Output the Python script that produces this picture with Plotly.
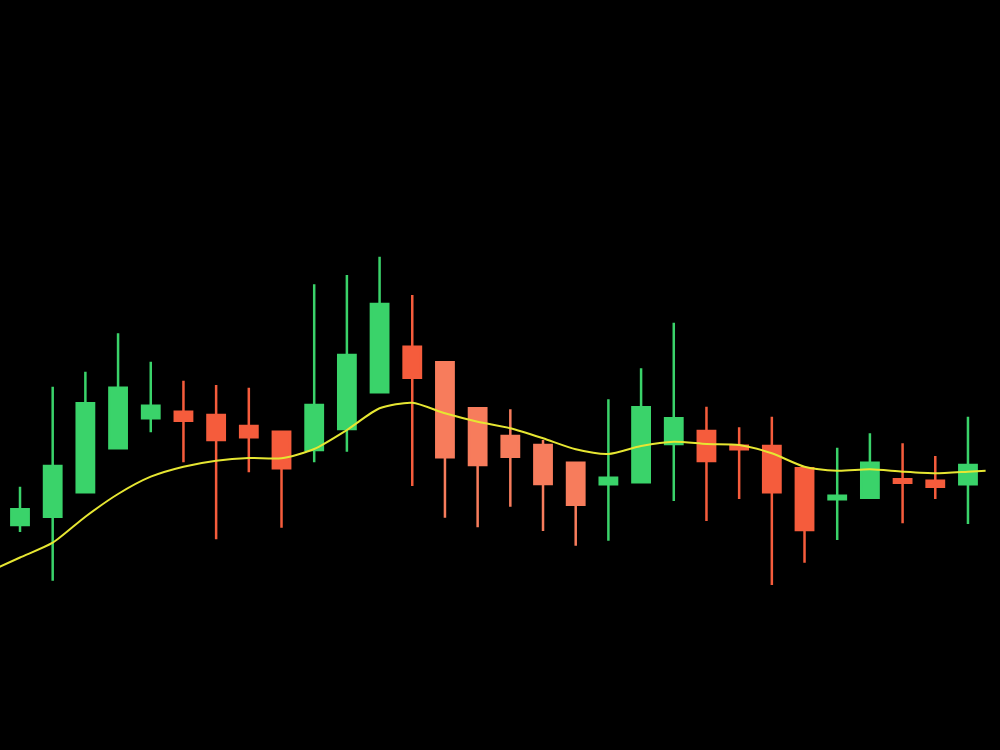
import plotly.graph_objects as go

# Candle data (arbitrary price units)
opens  = [22.50, 23.33, 25.77, 30.17, 33.17, 33.83, 33.50, 32.40, 31.83, 30.00,
          32.10, 35.77, 40.33, 38.77, 34.17, 31.40, 30.50, 28.73, 26.57, 26.77,
          30.60, 31.90, 30.43, 30.40, 28.17, 25.07, 25.23, 27.07, 26.93, 26.57]
highs  = [26.33, 36.33, 37.83, 41.67, 38.83, 36.93, 36.50, 36.23, 31.83, 46.57,
          47.50, 49.33, 45.50, 38.77, 34.17, 34.07, 31.00, 28.73, 35.07, 38.17,
          42.73, 34.33, 32.27, 33.33, 28.17, 30.23, 31.67, 30.67, 29.40, 33.33]
lows   = [21.80, 16.93, 25.77, 30.17, 31.77, 28.77, 21.07, 27.77, 22.23, 28.77,
          29.83, 35.77, 26.40, 23.23, 22.27, 24.33, 21.90, 20.43, 20.93, 26.77,
          24.90, 22.90, 25.10, 16.50, 18.73, 21.00, 25.23, 22.67, 25.10, 22.60]
closes = [24.07, 28.40, 34.67, 36.23, 34.43, 32.93, 31.00, 31.27, 28.17, 34.50,
          39.50, 44.60, 37.23, 29.27, 28.50, 29.33, 26.60, 24.53, 27.23, 34.27,
          33.17, 28.90, 30.07, 25.77, 22.00, 25.43, 28.73, 26.73, 26.33, 28.50]
# colour group of each candle: g = green, r = red, s = salmon
groups = list("gggggrrrrgggrsssssgggrrrrggrrg")

# moving-average line
ma_x = [-1] + list(range(30)) + [29.54]
ma_y = [17.75, 19.25, 20.73, 23.33, 25.60, 27.33, 28.33, 28.93, 29.20, 29.17, 30.10,
        32.00, 34.17, 34.73, 33.67, 32.83, 32.17, 31.17, 30.07, 29.60, 30.40,
        30.83, 30.60, 30.50, 29.67, 28.33, 27.93, 28.07, 27.83, 27.67, 27.83, 27.93]

colors = {"g": "#3ad36a", "r": "#f55c3c", "s": "#f77c5c"}

fig = go.Figure()
for key, col in colors.items():
    idx = [i for i, g in enumerate(groups) if g == key]
    fig.add_trace(go.Candlestick(
        x=idx,
        open=[opens[i] for i in idx], high=[highs[i] for i in idx],
        low=[lows[i] for i in idx], close=[closes[i] for i in idx],
        increasing=dict(line=dict(color=col, width=2.5), fillcolor=col),
        decreasing=dict(line=dict(color=col, width=2.5), fillcolor=col),
        whiskerwidth=0, showlegend=False, hoverinfo="skip",
    ))

fig.add_trace(go.Scatter(x=ma_x, y=ma_y, mode="lines",
                         line=dict(color="#e6e632", width=2, shape="spline", smoothing=0.7),
                         showlegend=False, hoverinfo="skip"))

fig.update_layout(
    width=1000, height=750,
    margin=dict(l=0, r=0, t=0, b=0),
    paper_bgcolor="black", plot_bgcolor="black",
    boxgap=0.47, boxgroupgap=0,
    xaxis=dict(range=[-0.612, 29.98], visible=False, rangeslider=dict(visible=False)),
    yaxis=dict(range=[0, 75], visible=False),
    showlegend=False,
)
fig.write_html("out.html", config={"displayModeBar": False},
               post_script="document.body.style.margin='0';"
                           "document.body.style.background='black';")
